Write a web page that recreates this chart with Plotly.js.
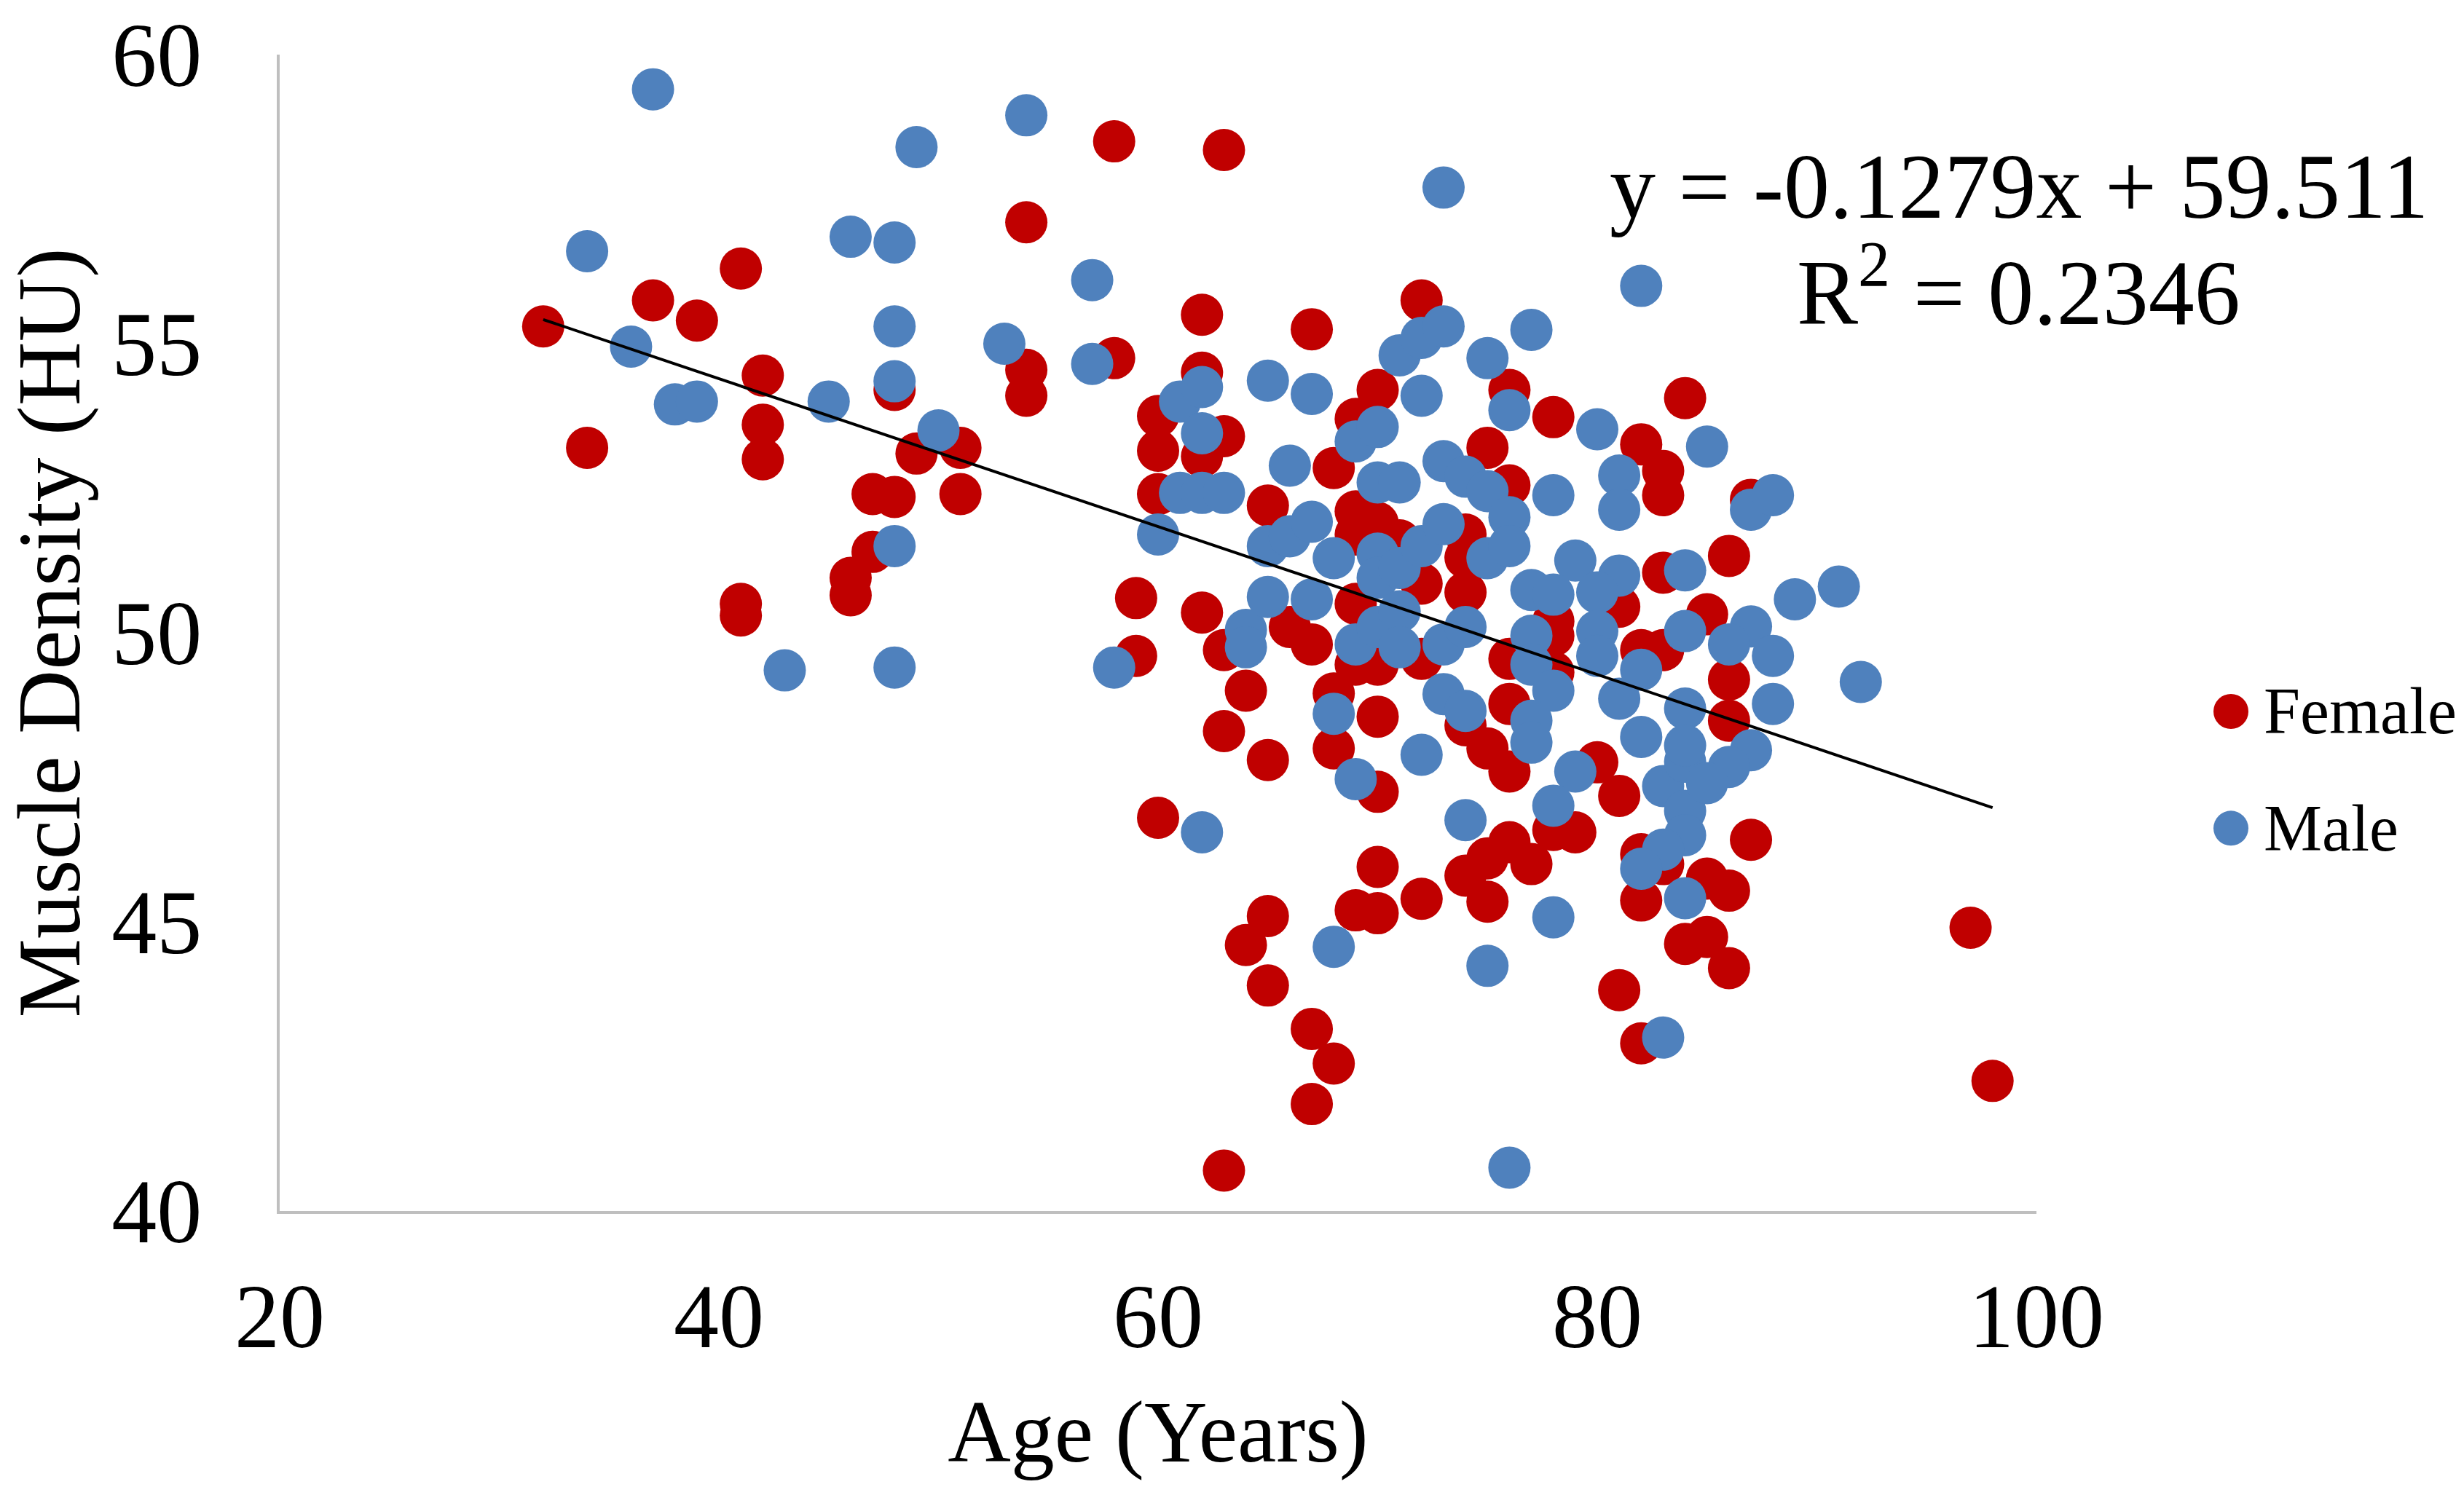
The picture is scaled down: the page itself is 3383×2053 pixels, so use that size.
<!DOCTYPE html>
<html>
<head>
<meta charset="utf-8">
<script src="https://cdn.plot.ly/plotly-3.0.1.min.js"></script>
<style>
  html, body { margin: 0; padding: 0; background: #ffffff; }
  #chart { width: 3383px; height: 2053px; }
</style>
</head>
<body>
<div id="chart"></div>
<script>
// Ages and muscle density values
const femaleAge = [
    32, 34, 37, 39, 41, 42, 42, 42, 41, 41,
    46, 46, 47, 47, 48, 48, 49, 51, 51, 54,
    54, 54, 58, 58, 63, 59, 59, 60, 60, 60,
    60, 62, 62, 63, 62, 62, 63, 63, 64, 65,
    64, 65, 65, 65, 63, 67, 68, 67, 67, 66,
    67, 68, 68, 68, 69, 69, 69, 70, 71, 69,
    69, 70, 70, 70, 70, 69, 70, 70, 72, 72,
    72, 72, 74, 74, 74, 74, 74, 75, 75, 75,
    76, 78, 84, 82, 83, 83, 76, 86, 83, 81,
    85, 78, 82, 83, 76, 78, 86, 86, 76, 75,
    76, 80, 81, 78, 79, 76, 77, 82, 83, 82,
    85, 86, 87, 84, 85, 86, 81, 82, 97, 98,
    87, 78
];
const femaleHU = [
    55.3, 53.2, 55.75, 55.4, 56.3, 54.45, 53.6, 53.0, 50.5, 50.3,
    50.95, 50.65, 51.4, 52.4, 52.35, 54.2, 53.1, 53.2, 52.4, 57.1,
    54.55, 54.1, 58.5, 54.75, 58.35, 50.6, 49.6, 46.8, 53.75, 53.15,
    52.4, 55.5, 54.5, 53.4, 53.05, 50.35, 49.7, 48.3, 49.0, 47.8,
    44.6, 45.1, 43.9, 52.2, 40.7, 43.15, 42.55, 41.85, 55.25, 50.1,
    49.8, 48.95, 48.0, 52.85, 53.7, 52.1, 51.7, 51.9, 51.6, 50.5,
    49.45, 49.45, 48.55, 47.25, 45.95, 45.2, 45.15, 54.2, 55.75, 50.85,
    49.55, 45.4, 51.7, 51.3, 50.7, 48.4, 45.8, 46.1, 45.35, 53.2,
    54.2, 53.73, 54.06, 53.26, 52.8, 52.38, 52.55, 51.33, 51.04, 50.45,
    50.32, 49.95, 49.7, 49.7, 49.55, 49.32, 49.19, 48.48, 48.77, 48.0,
    47.6, 47.76, 47.18, 46.59, 46.55, 46.38, 46.0, 46.17, 46.0, 45.37,
    45.75, 45.54, 46.42, 44.62, 44.74, 44.2, 43.82, 42.9, 44.9, 42.25,
    52.3, 50.2
];

const maleAge = [
    37, 34, 36, 38, 39, 45, 46, 48, 48, 48,
    50, 48, 43, 48, 49, 54, 53, 57, 57, 58,
    60, 61, 62, 62, 61, 62, 63, 62, 64, 64,
    65, 65, 65, 66, 66, 67, 67, 67, 68, 68,
    68, 69, 69, 69, 70, 70, 71, 70, 70, 70,
    71, 71, 71, 71, 72, 73, 72, 72, 72, 73,
    73, 74, 75, 73, 73, 73, 74, 74, 75, 75,
    74, 75, 82, 77, 76, 80, 85, 81, 81, 78,
    76, 76, 87, 88, 84, 79, 77, 78, 81, 80,
    89, 91, 77, 80, 84, 87, 86, 88, 77, 78,
    80, 81, 82, 88, 84, 87, 77, 77, 79, 82,
    83, 84, 84, 84, 83, 82, 86, 85, 78, 84,
    78, 83, 76, 92, 84
];
const maleHU = [
    59.4, 56.6, 54.95, 53.95, 54.0, 54.0, 56.85, 56.75, 55.3, 54.35,
    53.5, 51.5, 49.35, 49.4, 58.4, 58.95, 55.0, 56.1, 54.65, 49.4,
    51.7, 54.0, 54.25, 53.45, 52.42, 52.42, 52.42, 46.55, 50.05, 49.75,
    54.36, 50.62, 51.5, 51.67, 52.89, 54.13, 51.92, 50.58, 51.29, 48.6,
    44.57, 47.47, 49.8, 53.31, 53.56, 52.6, 52.6, 51.37, 50.95, 50.1,
    51.12, 50.37, 49.75, 54.8, 55.1, 55.3, 54.1, 51.5, 47.89, 57.7,
    52.97, 52.7, 52.45, 51.88, 49.8, 48.94, 48.65, 50.1, 51.29, 54.75,
    46.76, 44.24, 56.0, 55.24, 53.85, 53.52, 53.22, 52.72, 52.13, 52.38,
    52.0, 51.5, 52.13, 52.38, 51.08, 51.25, 50.74, 50.66, 50.99, 50.7,
    50.58, 50.8, 49.95, 50.03, 50.03, 50.11, 49.8, 49.6, 49.45, 49.0,
    49.6, 48.86, 49.36, 48.77, 48.69, 47.97, 48.48, 48.1, 47.6, 48.2,
    47.35, 47.77, 46.92, 46.5, 46.25, 45.92, 47.68, 47.4, 47.01, 45.41,
    45.08, 43.0, 40.75, 49.15, 48.05
];

// Linear trendline reported on the chart
const trendSlope = -0.1279;
const trendIntercept = 59.511;
const trendAge = [32, 98];
const trendHU = trendAge.map(a => trendSlope * a + trendIntercept);

const seriesNames = ["Female", "Male"];
const seriesColors = ["#C00000", "#4F81BD"];

const serif = "Liberation Serif, Times New Roman, serif";

const traces = [
    {
        x: femaleAge,
        y: femaleHU,
        name: seriesNames[0],
        mode: "markers",
        type: "scatter",
        cliponaxis: false,
        marker: { color: seriesColors[0], size: 58 },
        hoverinfo: "x+y"
    },
    {
        x: maleAge,
        y: maleHU,
        name: seriesNames[1],
        mode: "markers",
        type: "scatter",
        cliponaxis: false,
        marker: { color: seriesColors[1], size: 58 },
        hoverinfo: "x+y"
    },
    {
        x: trendAge,
        y: trendHU,
        mode: "lines",
        type: "scatter",
        line: { color: "#000000", width: 4 },
        showlegend: false,
        hoverinfo: "skip"
    }
];

// Legend drawn by hand so the dots can be as big as the ones in the plot
const legendY = [0.432, 0.331];
const legendShapes = seriesNames.map((name, i) => ({
    type: "circle",
    xref: "paper", yref: "paper",
    xsizemode: "pixel", ysizemode: "pixel",
    xanchor: 1.1107, yanchor: legendY[i],
    x0: -24, x1: 24, y0: -24, y1: 24,
    fillcolor: seriesColors[i],
    line: { width: 0 }
}));
const legendLabels = seriesNames.map((name, i) => ({
    text: name,
    xref: "paper", yref: "paper",
    x: 1.1285, y: legendY[i],
    xanchor: "left", yanchor: "middle",
    showarrow: false,
    font: { family: serif, size: 90, color: "#000000" }
}));

const eqFormat = v => v.toFixed(4);
const equationNotes = [
    {
        text: `y = ${eqFormat(trendSlope)}x + ${trendIntercept}`,
        xref: "paper", yref: "paper",
        x: 0.99, y: 0.886,
        xanchor: "center", yanchor: "middle",
        showarrow: false,
        font: { family: serif, size: 126, color: "#000000" }
    },
    {
        text: "R<sup>2</sup> = 0.2346",
        xref: "paper", yref: "paper",
        x: 0.99, y: 0.8,
        xanchor: "center", yanchor: "middle",
        showarrow: false,
        font: { family: serif, size: 126, color: "#000000" }
    }
];

const layout = {
    width: 3383,
    height: 2053,
    margin: { l: 384, r: 587, t: 75, b: 390, pad: 0 },
    paper_bgcolor: "#ffffff",
    plot_bgcolor: "#ffffff",
    showlegend: false,
    xaxis: {
        range: [20, 100],
        dtick: 20,
        tick0: 20,
        showgrid: false,
        zeroline: false,
        showline: true,
        linecolor: "#BFBFBF",
        linewidth: 4,
        ticks: "",
        ticklabelstandoff: 34,
        tickfont: { family: serif, size: 124, color: "#000000" },
        title: {
            text: "Age (Years)",
            standoff: 48,
            font: { family: serif, size: 120, color: "#000000" }
        }
    },
    yaxis: {
        range: [40, 60],
        dtick: 5,
        tick0: 40,
        showgrid: false,
        zeroline: false,
        showline: true,
        linecolor: "#BFBFBF",
        linewidth: 4,
        ticks: "",
        ticklabelstandoff: 78,
        tickfont: { family: serif, size: 124, color: "#000000" },
        title: {
            text: "Muscle Density (HU)",
            standoff: 20,
            font: { family: serif, size: 122, color: "#000000" }
        }
    },
    shapes: legendShapes,
    annotations: equationNotes.concat(legendLabels)
};

Plotly.newPlot("chart", traces, layout, { displayModeBar: false, staticPlot: true });
</script>
</body>
</html>
